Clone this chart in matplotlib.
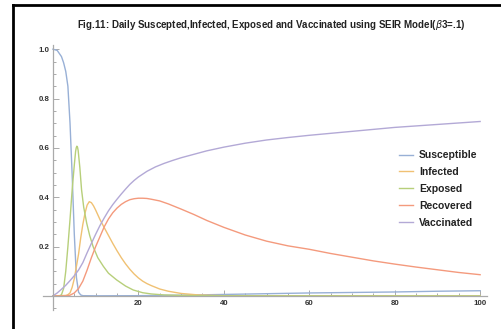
import matplotlib
matplotlib.use("Agg")
import matplotlib.pyplot as plt
from matplotlib.lines import Line2D
from matplotlib.ticker import MultipleLocator, FixedLocator

plt.rcParams['font.family'] = ['Liberation Sans', 'DejaVu Sans']

# Susceptible
s_x = [0, 1, 2, 2.5, 3, 3.5, 4, 4.5, 5, 5.5, 6, 6.5, 7, 10, 20, 30, 40, 50, 60, 70, 80, 90, 100]
s_y = [1.0, 0.995, 0.97, 0.945, 0.91, 0.85, 0.70, 0.49, 0.25, 0.075, 0.015, 0.004, 0.001, 0.0005,
       0.001, 0.003, 0.006, 0.009, 0.012, 0.014, 0.016, 0.019, 0.021]

# Infected
i_x = [0, 3, 3.5, 4, 4.5, 5, 5.5, 6, 6.5, 7, 7.5, 8, 8.5, 9, 9.5, 10, 11, 12, 13, 14, 15, 16,
       17, 18, 19, 20, 21, 22, 23, 25, 27, 30, 34, 40, 100]
i_y = [0, 0.002, 0.005, 0.012, 0.035, 0.07, 0.12, 0.17, 0.235, 0.29, 0.335, 0.368, 0.382, 0.378,
       0.365, 0.348, 0.31, 0.277, 0.245, 0.213, 0.183, 0.155, 0.13, 0.108, 0.089, 0.073, 0.06,
       0.05, 0.042, 0.028, 0.019, 0.01, 0.004, 0.001, 0]

# Exposed
e_x = [0, 1.5, 2, 2.5, 3, 3.5, 4, 4.5, 5, 5.3, 5.45, 5.6, 5.75, 5.9, 6.3, 6.7, 7.2, 7.9, 8.6,
       9.4, 10.5, 11.8, 13, 14.9, 17, 18.8, 21, 23, 26, 30, 40, 100]
e_y = [0, 0, 0.005, 0.03, 0.1, 0.2, 0.31, 0.43, 0.53, 0.585, 0.6, 0.607, 0.603, 0.59, 0.52,
       0.43, 0.36, 0.295, 0.245, 0.2, 0.155, 0.12, 0.092, 0.065, 0.04, 0.024, 0.013, 0.008,
       0.004, 0.002, 0.0005, 0]

# Recovered
r_x = [0, 3, 4, 5, 6, 7, 8, 9, 10, 11, 12, 13, 14, 15, 16, 17, 18, 19, 20, 21, 22, 23, 25, 27,
       30, 33, 36, 40, 45, 50, 55, 60, 65, 70, 75, 80, 85, 90, 95, 100]
r_y = [0, 0, 0.003, 0.012, 0.03, 0.06, 0.105, 0.155, 0.2, 0.24, 0.28, 0.312, 0.337, 0.356,
       0.371, 0.382, 0.39, 0.394, 0.396, 0.396, 0.395, 0.392, 0.385, 0.373, 0.352, 0.33, 0.306,
       0.278, 0.247, 0.222, 0.203, 0.189, 0.172, 0.157, 0.142, 0.129, 0.117, 0.106, 0.095, 0.086]

# Vaccinated
v_x = [0, 1, 2, 3, 4, 5, 6, 7, 8, 9, 10, 11, 12, 13, 14, 15, 16, 17, 18, 19, 20, 22, 24, 26,
       28, 30, 33, 36, 40, 45, 50, 55, 60, 65, 70, 75, 80, 85, 90, 95, 100]
v_y = [0, 0.012, 0.027, 0.043, 0.062, 0.082, 0.105, 0.135, 0.175, 0.213, 0.25, 0.285, 0.316,
       0.345, 0.37, 0.392, 0.413, 0.433, 0.452, 0.468, 0.482, 0.505, 0.523, 0.537, 0.549, 0.56,
       0.574, 0.588, 0.603, 0.619, 0.632, 0.642, 0.651, 0.659, 0.667, 0.675, 0.683, 0.689,
       0.695, 0.701, 0.707]

labels = ['Susceptible', 'Infected', 'Exposed', 'Recovered', 'Vaccinated']
colors = ['#98B0D6', '#F0C173', '#B7CF7A', '#F49A7D', '#B3A9D6']

fig = plt.figure(figsize=(5.01, 3.29), dpi=100)
ax = fig.add_axes([0.0852, 0.0578, 0.8868, 0.8054])

series = [(s_x, s_y), (i_x, i_y), (e_x, e_y), (r_x, r_y), (v_x, v_y)]
for (xs, ys), lab, col in zip(series, labels, colors):
    ax.plot(xs, ys, color=col, lw=1.0, label=lab, solid_joinstyle='round')

ax.set_xlim(-2.4, 101.6)
ax.set_ylim(-0.057, 1.017)

# Mathematica-style axes through the origin
for side in ['top', 'right']:
    ax.spines[side].set_visible(False)
ax.spines['left'].set_position(('data', 0))
ax.spines['bottom'].set_position(('data', 0))
for side in ['left', 'bottom']:
    ax.spines[side].set_color('#aaaaaa')
    ax.spines[side].set_linewidth(0.9)

ax.xaxis.set_major_locator(FixedLocator([20, 40, 60, 80, 100]))
ax.xaxis.set_minor_locator(MultipleLocator(5))
ax.yaxis.set_major_locator(FixedLocator([0.2, 0.4, 0.6, 0.8, 1.0]))
ax.yaxis.set_minor_locator(MultipleLocator(0.05))
ax.set_yticklabels(['0.2', '0.4', '0.6', '0.8', '1.0'])
ax.tick_params(which='both', direction='in', color='#aaaaaa', width=0.7)
ax.tick_params(which='major', length=4)
ax.tick_params(which='minor', length=2.2)
ax.tick_params(axis='y', pad=2.5)
ax.tick_params(axis='x', pad=3)
for t in ax.get_xticklabels() + ax.get_yticklabels():
    t.set_fontsize(5.7)
    t.set_fontweight('bold')
    t.set_color('#333333')

leg = ax.legend(loc='upper left', bbox_to_anchor=(394 / 501, 1 - 145 / 329),
                bbox_transform=fig.transFigure, frameon=False, borderpad=0,
                handlelength=1.35, handletextpad=0.55, labelspacing=0.66,
                prop={'size': 7.5, 'weight': 'bold'})
for t in leg.get_texts():
    t.set_color('#222222')

fig.text(271 / 501, 1 - 25 / 329,
         r'Fig.11: Daily Suscepted,Infected, Exposed and Vaccinated using SEIR Model($\beta$3=.1)',
         ha='center', va='center', fontsize=7.0, fontweight='bold', color='#222222')

# black frame on top and left
fig.add_artist(Line2D([13 / 501, 13 / 501], [0, 1 - 5 / 329], transform=fig.transFigure,
                      color='black', lw=2))
fig.add_artist(Line2D([13 / 501, 1], [1 - 5 / 329, 1 - 5 / 329], transform=fig.transFigure,
                      color='black', lw=2))

fig.savefig('out.png', dpi=100)
